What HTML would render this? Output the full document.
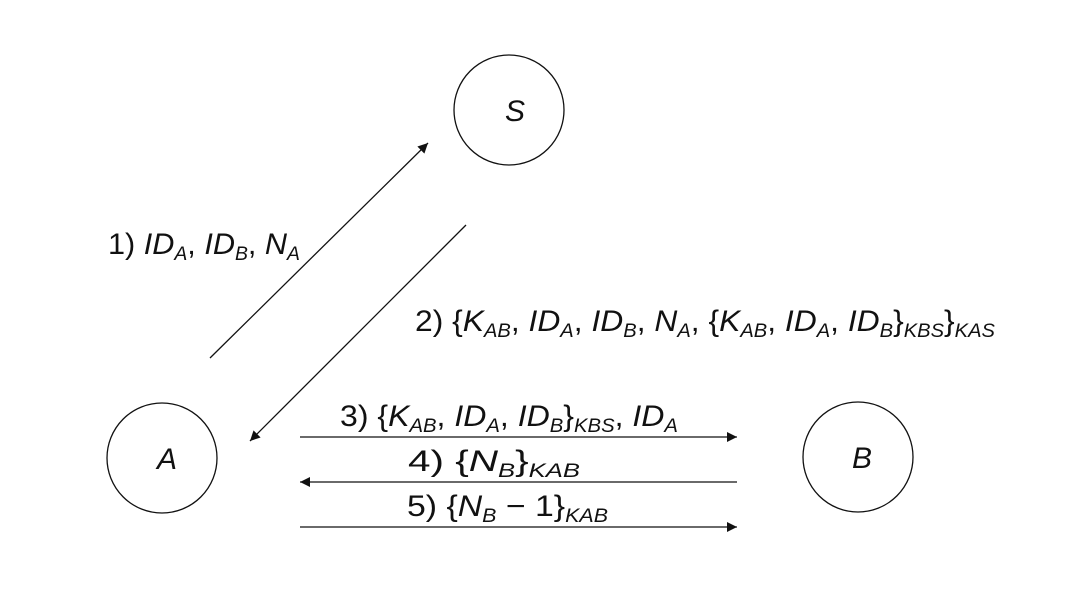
<!DOCTYPE html>
<html><head><meta charset="utf-8"><style>
html,body{margin:0;padding:0;background:#fff;}
svg{display:block;font-family:"Liberation Sans",sans-serif;}
.t{font-size:30px;fill:#111;}
.i{font-style:italic;}
.s{font-size:19px;font-style:italic;}
</style></head><body>
<svg width="1082" height="602" viewBox="0 0 1082 602">
<defs><marker id="ah" viewBox="0 0 10 10" refX="10" refY="5" markerWidth="14" markerHeight="10" markerUnits="userSpaceOnUse" orient="auto"><path d="M0,0 L10,5 L0,10 z" fill="#111"/></marker></defs>
<g stroke="#111" stroke-width="1.3" fill="none">
<circle cx="509" cy="110" r="55"/>
<circle cx="162" cy="458" r="55"/>
<circle cx="858" cy="457" r="55"/>
<line x1="210" y1="358" x2="428" y2="143" marker-end="url(#ah)"/>
<line x1="466" y1="225" x2="250" y2="441" marker-end="url(#ah)"/>
<line x1="300" y1="437" x2="737" y2="437" marker-end="url(#ah)"/>
<line x1="737" y1="482" x2="300" y2="482" marker-end="url(#ah)"/>
<line x1="300" y1="527" x2="737" y2="527" marker-end="url(#ah)"/>
</g>
<text class="t i" x="505" y="121">S</text>
<text class="t i" x="157" y="469">A</text>
<text class="t i" x="852" y="468">B</text>
<text class="t" x="108" y="254" textLength="192" lengthAdjust="spacingAndGlyphs">1) <tspan class="i">ID</tspan><tspan class="s" dy="6">A</tspan><tspan dy="-6">, </tspan><tspan class="i">ID</tspan><tspan class="s" dy="6">B</tspan><tspan dy="-6">, </tspan><tspan class="i">N</tspan><tspan class="s" dy="6">A</tspan></text>
<text class="t" x="415" y="331" textLength="580" lengthAdjust="spacingAndGlyphs">2) {<tspan class="i">K</tspan><tspan class="s" dy="6">AB</tspan><tspan dy="-6">, </tspan><tspan class="i">ID</tspan><tspan class="s" dy="6">A</tspan><tspan dy="-6">, </tspan><tspan class="i">ID</tspan><tspan class="s" dy="6">B</tspan><tspan dy="-6">, </tspan><tspan class="i">N</tspan><tspan class="s" dy="6">A</tspan><tspan dy="-6">, {</tspan><tspan class="i">K</tspan><tspan class="s" dy="6">AB</tspan><tspan dy="-6">, </tspan><tspan class="i">ID</tspan><tspan class="s" dy="6">A</tspan><tspan dy="-6">, </tspan><tspan class="i">ID</tspan><tspan class="s" dy="6">B</tspan><tspan dy="-6">}</tspan><tspan class="s" dy="6">KBS</tspan><tspan dy="-6">}</tspan><tspan class="s" dy="6">KAS</tspan></text>
<text class="t" x="340" y="426" textLength="338" lengthAdjust="spacingAndGlyphs">3) {<tspan class="i">K</tspan><tspan class="s" dy="6">AB</tspan><tspan dy="-6">, </tspan><tspan class="i">ID</tspan><tspan class="s" dy="6">A</tspan><tspan dy="-6">, </tspan><tspan class="i">ID</tspan><tspan class="s" dy="6">B</tspan><tspan dy="-6">}</tspan><tspan class="s" dy="6">KBS</tspan><tspan dy="-6">, </tspan><tspan class="i">ID</tspan><tspan class="s" dy="6">A</tspan></text>
<text class="t" x="408" y="471" textLength="172" lengthAdjust="spacingAndGlyphs">4) {<tspan class="i">N</tspan><tspan class="s" dy="6">B</tspan><tspan dy="-6">}</tspan><tspan class="s" dy="6">KAB</tspan></text>
<text class="t" x="407" y="516" textLength="201" lengthAdjust="spacingAndGlyphs">5) {<tspan class="i">N</tspan><tspan class="s" dy="6">B</tspan><tspan dy="-6"> − 1}</tspan><tspan class="s" dy="6">KAB</tspan></text>
</svg>
</body></html>
